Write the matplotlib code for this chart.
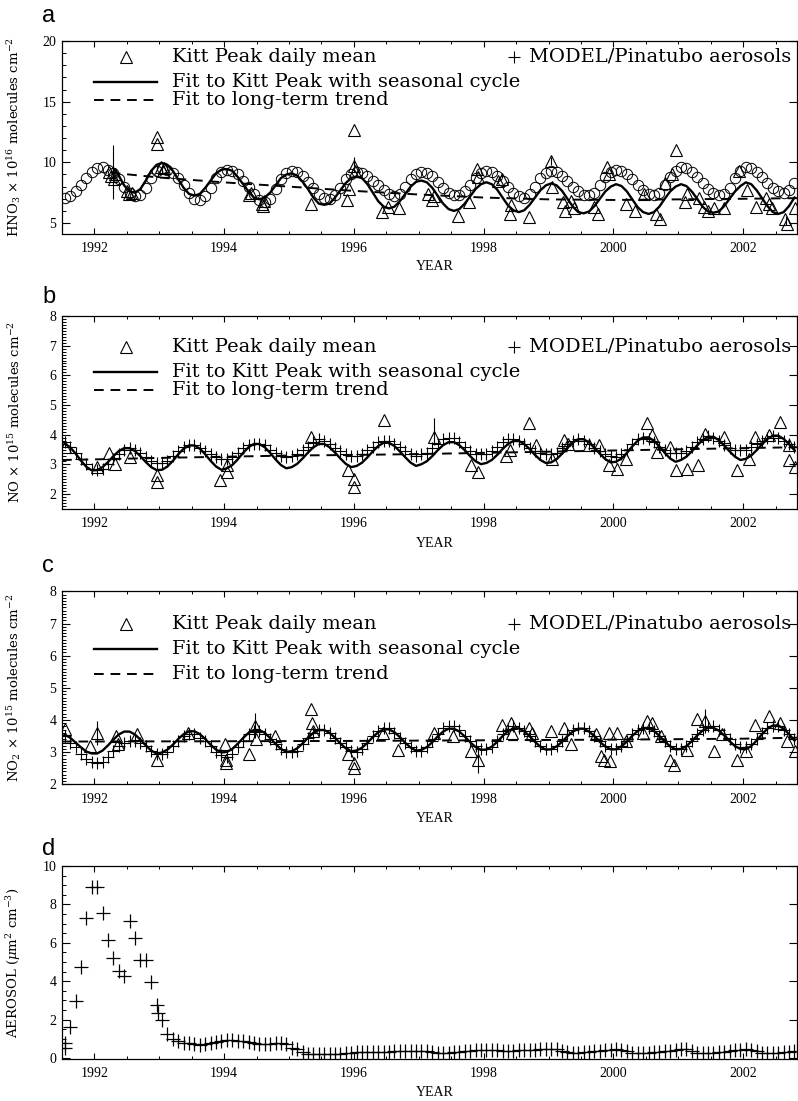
import numpy as np
import matplotlib.pyplot as plt
from matplotlib.ticker import MultipleLocator

plt.rcParams['font.family'] = 'DejaVu Serif'
plt.rcParams['mathtext.fontset'] = 'dejavuserif'

# model, monthly Jul 1991 - Oct 2002
hno3_model = [7.1, 7.2, 7.6, 8.1, 8.7, 9.2,
              9.5, 9.6, 9.4, 9.1, 8.6, 8.0, 7.5, 7.2, 7.3, 7.9, 8.7, 9.3,
              9.5, 9.4, 9.1, 8.7, 8.1, 7.5, 7.0, 6.9, 7.2, 7.9, 8.7, 9.2,
              9.4, 9.3, 9.0, 8.5, 8.0, 7.4, 6.9, 6.7, 7.0, 7.8, 8.6, 9.1,
              9.3, 9.2, 8.9, 8.4, 7.9, 7.4, 7.1, 7.0, 7.3, 7.9, 8.6, 9.0,
              9.2, 9.1, 8.9, 8.5, 8.1, 7.7, 7.4, 7.2, 7.4, 8.0, 8.6, 9.0,
              9.2, 9.1, 8.9, 8.4, 7.9, 7.5, 7.3, 7.3, 7.6, 8.1, 8.7, 9.1,
              9.3, 9.2, 8.9, 8.5, 8.0, 7.5, 7.2, 7.1, 7.4, 8.0, 8.7, 9.1,
              9.3, 9.2, 8.9, 8.5, 8.0, 7.6, 7.3, 7.3, 7.5, 8.1, 8.8, 9.2,
              9.4, 9.3, 9.0, 8.6, 8.1, 7.7, 7.4, 7.3, 7.5, 8.1, 8.8, 9.3,
              9.6, 9.5, 9.2, 8.8, 8.3, 7.8, 7.5, 7.3, 7.4, 7.9, 8.7, 9.3,
              9.6, 9.5, 9.2, 8.8, 8.3, 7.9, 7.6, 7.5, 7.7, 8.3]
no_model = [3.75, 3.6, 3.4, 3.2, 3.0, 2.85,
            2.8, 2.85, 3.0, 3.2, 3.35, 3.5, 3.55, 3.5, 3.4, 3.25, 3.1, 3.05,
            3.05, 3.1, 3.3, 3.45, 3.6, 3.65, 3.65, 3.55, 3.45, 3.35, 3.25, 3.2,
            3.2, 3.25, 3.4, 3.55, 3.65, 3.7, 3.7, 3.65, 3.5, 3.4, 3.3, 3.25,
            3.3, 3.35, 3.5, 3.6, 3.75, 3.85, 3.8, 3.7, 3.55, 3.45, 3.35, 3.3,
            3.3, 3.35, 3.5, 3.6, 3.75, 3.8, 3.8, 3.7, 3.6, 3.45, 3.35, 3.3,
            3.35, 3.4, 3.55, 3.7, 3.85, 3.9, 3.9, 3.75, 3.6, 3.45, 3.35, 3.35,
            3.35, 3.45, 3.6, 3.75, 3.85, 3.85, 3.8, 3.7, 3.55, 3.45, 3.4, 3.35,
            3.35, 3.4, 3.55, 3.7, 3.8, 3.85, 3.8, 3.7, 3.55, 3.45, 3.35, 3.3,
            3.25, 3.35, 3.5, 3.7, 3.85, 3.9, 3.85, 3.75, 3.6, 3.5, 3.4, 3.4,
            3.4, 3.45, 3.6, 3.75, 3.85, 3.95, 3.9, 3.8, 3.65, 3.55, 3.5, 3.5,
            3.5, 3.6, 3.7, 3.8, 3.9, 3.95, 3.9, 3.8, 3.7, 3.6]
no2_model = [3.5, 3.3, 3.15, 2.95, 2.8, 2.7,
             2.65, 2.7, 2.85, 3.05, 3.2, 3.3, 3.35, 3.35, 3.3, 3.2, 3.05, 2.95,
             2.95, 3.0, 3.2, 3.35, 3.5, 3.55, 3.55, 3.45, 3.35, 3.2, 3.0, 2.9,
             2.85, 2.95, 3.15, 3.35, 3.55, 3.65, 3.65, 3.55, 3.4, 3.25, 3.1, 3.0,
             3.0, 3.05, 3.25, 3.45, 3.6, 3.7, 3.7, 3.6, 3.45, 3.3, 3.15, 3.05,
             3.0, 3.1, 3.3, 3.5, 3.65, 3.75, 3.75, 3.6, 3.45, 3.3, 3.15, 3.05,
             3.05, 3.15, 3.35, 3.55, 3.75, 3.8, 3.8, 3.7, 3.5, 3.35, 3.2, 3.1,
             3.1, 3.15, 3.35, 3.55, 3.7, 3.8, 3.75, 3.65, 3.5, 3.35, 3.2, 3.1,
             3.1, 3.2, 3.35, 3.55, 3.7, 3.75, 3.75, 3.65, 3.5, 3.35, 3.2, 3.1,
             3.1, 3.2, 3.35, 3.55, 3.7, 3.75, 3.75, 3.65, 3.5, 3.35, 3.2, 3.1,
             3.1, 3.2, 3.35, 3.55, 3.7, 3.8, 3.8, 3.7, 3.55, 3.4, 3.25, 3.15,
             3.15, 3.25, 3.4, 3.6, 3.75, 3.8, 3.8, 3.7, 3.55, 3.4]
aerosol = [0.52, 1.62, 2.96, 4.75, 7.3, 8.92,
           8.92, 7.57, 6.17, 5.22, 4.52, 4.26, 7.13, 6.26, 5.1, 5.13, 3.97, 2.75,
           1.97, 1.27, 0.99, 0.87, 0.8, 0.78, 0.72, 0.7, 0.72, 0.78, 0.82, 0.88,
           0.92, 0.92, 0.9, 0.88, 0.85, 0.8, 0.75, 0.72, 0.75, 0.78, 0.78, 0.75,
           0.55, 0.45, 0.3, 0.22, 0.2, 0.2, 0.2, 0.2, 0.22, 0.22, 0.25, 0.28,
           0.3, 0.3, 0.3, 0.3, 0.32, 0.32, 0.32, 0.35, 0.35, 0.35, 0.35, 0.35,
           0.38, 0.35, 0.3, 0.25, 0.25, 0.25, 0.3, 0.32, 0.35, 0.38, 0.4, 0.4,
           0.42, 0.42, 0.4, 0.38, 0.38, 0.38, 0.4, 0.4, 0.42, 0.42, 0.45, 0.45,
           0.48, 0.45, 0.35, 0.3, 0.25, 0.28, 0.3, 0.32, 0.35, 0.38, 0.4, 0.42,
           0.45, 0.42, 0.35, 0.28, 0.25, 0.25, 0.28, 0.3, 0.32, 0.35, 0.38, 0.42,
           0.45, 0.45, 0.35, 0.28, 0.25, 0.25, 0.28, 0.3, 0.32, 0.35, 0.4, 0.42,
           0.45, 0.42, 0.35, 0.28, 0.25, 0.25, 0.28, 0.3, 0.32, 0.35]
aerosol_extra_t = [1991.54, 1992.98]
aerosol_extra_v = [0.78, 2.35]

# seasonal fits, monthly (HNO3 from Apr 1992, NO/NO2 from Jul 1991)
hno3_fit = [9.5, 8.9, 8.1, 7.6, 7.5, 7.8, 8.5, 9.3, 9.8,
            9.95, 9.8, 9.3, 8.6, 7.9, 7.4, 7.25, 7.4, 7.9, 8.5, 9.1, 9.4,
            9.45, 9.3, 8.8, 8.2, 7.6, 7.1, 6.95, 7.1, 7.5, 8.1, 8.7, 9.0,
            9.1, 8.9, 8.4, 7.8, 7.1, 6.6, 6.5, 6.6, 7.1, 7.7, 8.3, 8.7,
            8.85, 8.7, 8.2, 7.5, 6.8, 6.35, 6.2, 6.35, 6.8, 7.4, 8.0, 8.4,
            8.5, 8.35, 7.9, 7.25, 6.6, 6.15, 6.0, 6.15, 6.6, 7.2, 7.8, 8.2,
            8.36, 8.2, 7.75, 7.1, 6.45, 6.05, 5.9, 6.05, 6.5, 7.1, 7.7, 8.1,
            8.27, 8.1, 7.65, 7.0, 6.35, 5.9, 5.8, 5.95, 6.4, 7.0, 7.6, 8.0,
            8.2, 8.05, 7.6, 6.95, 6.3, 5.9, 5.75, 5.9, 6.35, 7.0, 7.6, 8.0,
            8.2, 8.05, 7.6, 7.0, 6.35, 5.95, 5.85, 5.95, 6.4, 7.0, 7.6, 8.05,
            8.35, 8.2, 7.7, 7.05, 6.4, 5.9, 5.75, 5.9, 6.4, 7.1]
no_fit = [3.7, 3.58, 3.37, 3.13, 2.92, 2.8,
          2.81, 2.91, 3.08, 3.28, 3.45, 3.55, 3.55, 3.45, 3.28, 3.08, 2.91, 2.81,
          2.82, 2.93, 3.12, 3.34, 3.53, 3.64, 3.64, 3.53, 3.34, 3.12, 2.93, 2.82,
          2.87, 2.98, 3.17, 3.39, 3.58, 3.69, 3.69, 3.58, 3.39, 3.17, 2.98, 2.87,
          2.91, 3.02, 3.2, 3.4, 3.58, 3.69, 3.69, 3.58, 3.4, 3.2, 3.02, 2.91,
          2.95, 3.06, 3.24, 3.44, 3.62, 3.73, 3.73, 3.62, 3.44, 3.24, 3.06, 2.95,
          3.01, 3.11, 3.28, 3.48, 3.65, 3.75, 3.75, 3.65, 3.48, 3.28, 3.11, 3.01,
          3.05, 3.15, 3.32, 3.52, 3.69, 3.79, 3.79, 3.69, 3.52, 3.32, 3.15, 3.05,
          3.07, 3.18, 3.36, 3.56, 3.74, 3.85, 3.85, 3.74, 3.56, 3.36, 3.18, 3.07,
          3.09, 3.2, 3.39, 3.61, 3.8, 3.91, 3.91, 3.8, 3.61, 3.39, 3.2, 3.09,
          3.15, 3.26, 3.44, 3.64, 3.82, 3.93, 3.93, 3.82, 3.64, 3.44, 3.26, 3.15,
          3.19, 3.3, 3.48, 3.68, 3.86, 3.97, 3.97, 3.86, 3.68, 3.48]
no2_fit = [3.55, 3.45, 3.3, 3.15, 3.02, 2.96,
           2.96, 3.05, 3.21, 3.39, 3.55, 3.64, 3.64, 3.55, 3.39, 3.21, 3.05, 2.96,
           2.99, 3.08, 3.23, 3.41, 3.56, 3.65, 3.65, 3.56, 3.41, 3.23, 3.08, 2.99,
           3.01, 3.1, 3.26, 3.44, 3.6, 3.69, 3.69, 3.6, 3.44, 3.26, 3.1, 3.01,
           3.03, 3.12, 3.27, 3.45, 3.6, 3.69, 3.69, 3.6, 3.45, 3.27, 3.12, 3.03,
           3.05, 3.14, 3.29, 3.47, 3.62, 3.71, 3.71, 3.62, 3.47, 3.29, 3.14, 3.05,
           3.07, 3.16, 3.31, 3.49, 3.64, 3.73, 3.73, 3.64, 3.49, 3.31, 3.16, 3.07,
           3.08, 3.17, 3.32, 3.5, 3.65, 3.74, 3.74, 3.65, 3.5, 3.32, 3.17, 3.08,
           3.09, 3.18, 3.32, 3.5, 3.64, 3.73, 3.73, 3.64, 3.5, 3.32, 3.18, 3.09,
           3.09, 3.18, 3.33, 3.51, 3.66, 3.75, 3.75, 3.66, 3.51, 3.33, 3.18, 3.09,
           3.1, 3.19, 3.34, 3.52, 3.67, 3.76, 3.76, 3.67, 3.52, 3.34, 3.19, 3.1,
           3.09, 3.19, 3.36, 3.56, 3.73, 3.83, 3.83, 3.73, 3.56, 3.36]

# long-term trend fits
hno3_trend_t = [1992.25, 1993, 1994, 1995, 1996, 1997, 1998, 1999, 2000, 2001, 2002, 2002.83]
hno3_trend_v = [9.15, 8.75, 8.35, 8.0, 7.65, 7.35, 7.1, 6.95, 6.9, 6.95, 7.0, 7.05]
no_trend_t = [1991.5, 1992, 1993, 1994, 1995, 1996, 1997, 1998, 1999, 2000, 2001, 2002, 2002.83]
no_trend_v = [3.15, 3.17, 3.22, 3.26, 3.3, 3.32, 3.35, 3.39, 3.43, 3.47, 3.51, 3.55, 3.58]
no2_trend_t = [1991.5, 1994, 1996, 1998, 2000, 2002, 2002.83]
no2_trend_v = [3.33, 3.34, 3.35, 3.37, 3.39, 3.42, 3.45]

# Kitt Peak daily means
tri_a_t = [1992.22, 1992.26, 1992.3, 1992.32, 1992.5, 1992.54, 1992.58, 1992.96, 1992.96, 1993.02,
           1993.05, 1993.08, 1994.38, 1994.42, 1994.58, 1994.6, 1994.62, 1995.34, 1995.9, 1995.92,
           1996.0, 1996.0, 1996.02, 1996.44, 1996.52, 1996.7, 1997.14, 1997.2, 1997.24, 1997.6,
           1997.78, 1997.9, 1997.92, 1998.22, 1998.28, 1998.4, 1998.42, 1998.7, 1999.04, 1999.05,
           1999.22, 1999.26, 1999.35, 1999.4, 1999.7, 1999.76, 1999.9, 1999.94, 2000.2, 2000.34,
           2000.47, 2000.65, 2000.72, 2000.8, 2000.9, 2000.96, 2001.1, 2001.14, 2001.32, 2001.4,
           2001.46, 2001.55, 2001.7, 2001.93, 2002.06, 2002.2, 2002.36, 2002.4, 2002.44, 2002.65,
           2002.68, 2002.8]
tri_a_v = [9.2, 8.9, 8.6, 9.0, 7.6, 7.4, 7.5, 12.05, 11.5, 9.6,
           9.3, 9.5, 7.3, 7.5, 6.6, 6.4, 6.8, 6.6, 6.9, 7.8,
           12.7, 9.7, 9.3, 5.95, 6.3, 6.2, 7.4, 6.9, 7.2, 5.6,
           6.7, 9.45, 8.8, 8.5, 8.6, 5.75, 6.5, 5.5, 10.1, 8.0,
           6.7, 6.0, 6.8, 6.2, 6.3, 5.75, 9.6, 9.0, 6.6, 6.0,
           7.4, 5.75, 5.3, 8.3, 9.0, 11.0, 6.7, 7.4, 7.1, 6.3,
           6.0, 6.2, 6.2, 9.3, 7.7, 6.3, 7.1, 6.6, 6.2, 5.3,
           4.9, 6.2]
tri_b_t = [1991.55, 1992.04, 1992.22, 1992.32, 1992.55, 1992.96, 1992.96, 1993.93, 1994.04, 1994.04,
           1995.34, 1995.91, 1996.0, 1996.0, 1996.47, 1997.24, 1997.8, 1997.91, 1998.34, 1998.4,
           1998.7, 1998.8, 1999.06, 1999.24, 1999.3, 1999.63, 1999.78, 1999.93, 2000.06, 2000.19,
           2000.52, 2000.6, 2000.68, 2000.88, 2000.96, 2001.13, 2001.3, 2001.42, 2001.7, 2001.91,
           2002.09, 2002.19, 2002.4, 2002.57, 2002.7, 2002.7, 2002.8]
tri_b_v = [3.6, 2.91, 3.38, 3.02, 3.25, 2.63, 2.4, 2.46, 2.74, 2.97,
           3.93, 2.8, 2.51, 2.23, 4.49, 3.93, 2.97, 2.74, 3.3, 3.5,
           4.38, 3.64, 3.19, 3.81, 3.7, 3.64, 3.64, 2.97, 2.85, 3.19,
           4.38, 3.98, 3.42, 3.59, 2.8, 2.85, 2.97, 4.04, 3.93, 2.8,
           3.19, 3.93, 3.98, 4.43, 3.64, 3.14, 2.91]
tri_c_t = [1991.55, 1991.93, 1992.04, 1992.34, 1992.36, 1992.65, 1992.96, 1993.45, 1994.01, 1994.03,
           1994.03, 1994.39, 1994.47, 1994.49, 1994.78, 1995.34, 1995.35, 1995.37, 1995.91, 1996.0,
           1996.0, 1996.45, 1996.68, 1997.24, 1997.52, 1997.8, 1997.91, 1998.29, 1998.42, 1998.44,
           1998.7, 1998.75, 1999.04, 1999.24, 1999.34, 1999.73, 1999.81, 1999.86, 1999.93, 1999.95,
           2000.06, 2000.19, 2000.45, 2000.52, 2000.6, 2000.73, 2000.88, 2000.93, 2001.14, 2001.29,
           2001.42, 2001.55, 2001.68, 2001.91, 2002.04, 2002.19, 2002.4, 2002.57, 2002.68, 2002.8]
tri_c_v = [3.71, 3.19, 3.6, 3.5, 3.24, 3.55, 2.77, 3.6, 3.24, 2.77,
           2.67, 2.93, 3.81, 3.4, 3.5, 4.33, 3.92, 3.66, 2.93, 2.67,
           2.51, 3.6, 3.08, 3.6, 3.5, 3.03, 2.77, 3.86, 3.92, 3.6,
           3.76, 3.6, 3.66, 3.76, 3.24, 3.55, 2.88, 2.77, 3.6, 2.72,
           3.6, 3.34, 3.6, 3.97, 3.92, 3.5, 2.77, 2.61, 3.08, 4.02,
           3.97, 3.03, 3.55, 2.77, 3.03, 3.86, 4.13, 3.92, 3.34, 3.03]

err_a_t = [1992.29, 1996.0, 1999.04, 2002.66]
err_a_v = [9.2, 9.8, 10.1, 5.2]
err_a_e = [2.2, 0.6, 0.3, 0.4]
err_b_t = [1997.24]
err_b_v = [4.1]
err_b_e = [0.45]
err_c_t = [1992.04, 1994.47, 1997.91, 2001.42]
err_c_v = [3.6, 3.83, 2.77, 3.97]
err_c_e = [0.38, 0.4, 0.42, 0.37]

years = [1992, 1994, 1996, 1998, 2000, 2002]

t_model = 1991.5 + (np.arange(len(hno3_model)) + 0.5) / 12
t_hno3_fit = 1992.25 + (np.arange(len(hno3_fit)) + 0.5) / 12
t_fit = 1991.5 + (np.arange(len(no_fit)) + 0.5) / 12

fig = plt.figure(figsize=(7.98, 11.01), dpi=100)
W, H = 798, 1101

tri = dict(ls='none', marker='^', ms=8, mfc='none', mec='k', mew=0.8)
crs = dict(ls='none', marker='+', ms=8, color='k', mew=0.8)
circ = dict(ls='none', marker='o', ms=7.5, mfc='none', mec='k', mew=0.7)
solid = dict(color='k', lw=1.7)
dashed = dict(color='k', lw=1.4, dashes=(5, 3.5))


def setup(ax, ylim, major, minor, ylabel, letter, letter_y, year_y):
    ax.set_xlim(1991.5, 2002.83)
    ax.set_ylim(*ylim)
    ax.set_xticks(years)
    ax.xaxis.set_minor_locator(MultipleLocator(0.5))
    ax.yaxis.set_major_locator(MultipleLocator(major))
    ax.yaxis.set_minor_locator(MultipleLocator(minor))
    ax.tick_params(axis='x', which='major', direction='in', length=4, width=0.8,
                   top=True, pad=6, labelsize=10, labelfontfamily='Liberation Serif')
    ax.tick_params(axis='x', which='minor', direction='in', length=2.5, width=0.7, top=True)
    ax.tick_params(axis='y', which='major', direction='in', length=6, width=0.8,
                   right=True, pad=4, labelsize=10, labelfontfamily='Liberation Serif')
    ax.tick_params(axis='y', which='minor', direction='in', length=3, width=0.7, right=False)
    for s in ax.spines.values():
        s.set_linewidth(0.9)
    ax.set_ylabel(ylabel, fontsize=9.5)
    ax.yaxis.set_label_coords(-0.053, 0.5)
    fig.text(42 / W, 1 - letter_y / H, letter, family='Liberation Sans', fontsize=17,
             ha='left', va='baseline')
    fig.text(435 / W, 1 - year_y / H, 'YEAR', family='Liberation Serif', fontsize=10,
             ha='center', va='center')


def legend(ax, rows, fit_text='Fit to Kitt Peak with seasonal cycle'):
    r1, r2, r3 = rows
    ax.plot([0.087], [r1], transform=ax.transAxes, clip_on=False, **tri)
    ax.text(0.149, r1, 'Kitt Peak daily mean', transform=ax.transAxes, fontsize=14, va='center')
    ax.plot([0.615], [r1], transform=ax.transAxes, clip_on=False, **crs)
    ax.text(0.636, r1, 'MODEL/Pinatubo aerosols', transform=ax.transAxes, fontsize=14, va='center')
    ax.plot([0.0435, 0.129], [r2, r2], transform=ax.transAxes, **solid)
    ax.text(0.149, r2, fit_text, transform=ax.transAxes, fontsize=14, va='center')
    ax.plot([0.0435, 0.129], [r3, r3], transform=ax.transAxes, **dashed)
    ax.text(0.149, r3, 'Fit to long-term trend', transform=ax.transAxes, fontsize=14, va='center')


L, Wd, Ht = 0.0777, 0.921, 0.1753

# a: HNO3
ax = fig.add_axes([L, 0.7875, Wd, Ht])
ax.plot(t_model, hno3_model, **circ)
ax.plot(tri_a_t, tri_a_v, **tri)
ax.errorbar(err_a_t, err_a_v, yerr=err_a_e, fmt='none', ecolor='k', elinewidth=0.8, capsize=0)
ax.plot(t_hno3_fit, hno3_fit, **solid)
ax.plot(hno3_trend_t, hno3_trend_v, **dashed)
setup(ax, (4.1, 20), 5, 1, r'HNO$_3$ $\times$ 10$^{16}$ molecules cm$^{-2}$', 'a', 22, 266)
legend(ax, (0.917, 0.786, 0.694))

# b: NO
ax = fig.add_axes([L, 0.5377, Wd, Ht])
ax.plot(t_model, no_model, **crs)
ax.plot(tri_b_t, tri_b_v, **tri)
ax.errorbar(err_b_t, err_b_v, yerr=err_b_e, fmt='none', ecolor='k', elinewidth=0.8, capsize=0)
ax.plot(t_fit, no_fit, **solid)
ax.plot(no_trend_t, no_trend_v, **dashed)
setup(ax, (1.5, 8), 1, 0.1, r'NO $\times$ 10$^{15}$ molecules cm$^{-2}$', 'b', 303, 543)
legend(ax, (0.841, 0.709, 0.617))

# c: NO2
ax = fig.add_axes([L, 0.2876, Wd, Ht])
ax.plot(t_model, no2_model, **crs)
ax.plot(tri_c_t, tri_c_v, **tri)
ax.errorbar(err_c_t, err_c_v, yerr=err_c_e, fmt='none', ecolor='k', elinewidth=0.8, capsize=0)
ax.plot(t_fit, no2_fit, **solid)
ax.plot(no2_trend_t, no2_trend_v, **dashed)
setup(ax, (2, 8), 1, 0.1, r'NO$_2$ $\times$ 10$^{15}$ molecules cm$^{-2}$', 'c', 572, 818)
legend(ax, (0.832, 0.702, 0.571))

# d: aerosol
ax = fig.add_axes([L, 0.0381, Wd, Ht])
ax.plot(t_model, aerosol, ls='none', marker='+', ms=9.5, color='k', mew=0.9)
ax.plot(aerosol_extra_t, aerosol_extra_v, ls='none', marker='+', ms=9.5, color='k', mew=0.9)
setup(ax, (-0.05, 10), 2, 0.5, r'AEROSOL ($\mu$m$^2$ cm$^{-3}$)', 'd', 855, 1093)

fig.savefig('out.png', dpi=100)
